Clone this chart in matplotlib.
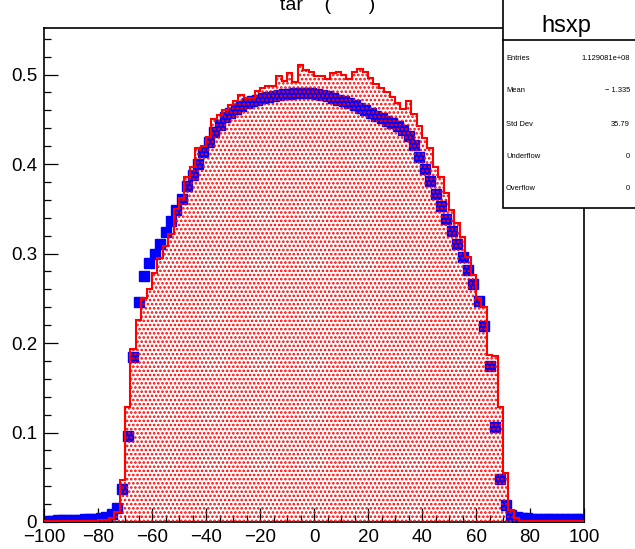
import numpy as np
import matplotlib.pyplot as plt
from matplotlib.patches import Rectangle
from matplotlib.ticker import MultipleLocator, FuncFormatter

plt.rcParams['font.family'] = ['Liberation Sans', 'DejaVu Sans']
plt.rcParams['hatch.linewidth'] = 1.25

# binning: 100 bins of width 2 from -100 to 100
edges = np.arange(-100, 101, 2)
centers = 0.5 * (edges[:-1] + edges[1:])

# red histogram (filled, dotted pattern)
red_vals = ([0.001] * 10 +
            [0.002, 0.002, 0.005, 0.011, 0.047, 0.129, 0.193, 0.226, 0.250, 0.260,
             0.278, 0.295, 0.308, 0.322, 0.350, 0.362, 0.385, 0.397, 0.418, 0.420,
             0.430, 0.450, 0.455, 0.460, 0.466, 0.470, 0.477, 0.474, 0.474, 0.482,
             0.485, 0.487, 0.487, 0.498, 0.493, 0.502, 0.492, 0.511, 0.505, 0.503,
             0.498, 0.498, 0.495, 0.502, 0.503, 0.500, 0.495, 0.503, 0.506, 0.503,
             0.496, 0.489, 0.485, 0.480, 0.475, 0.468, 0.462, 0.470, 0.456, 0.443,
             0.429, 0.418, 0.397, 0.386, 0.368, 0.349, 0.334, 0.318, 0.296, 0.276,
             0.250, 0.240, 0.187, 0.185, 0.128, 0.055, 0.013, 0.004] +
            [0.001] * 12)

# blue markers
blue_vals = ([0.001, 0.0015, 0.002, 0.002, 0.002, 0.0025, 0.0025, 0.003, 0.003, 0.003] +
             [0.004, 0.006, 0.009, 0.016, 0.037, 0.096, 0.184, 0.246, 0.275, 0.289,
              0.300, 0.311, 0.324, 0.336, 0.349, 0.361, 0.375, 0.388, 0.400, 0.413,
              0.425, 0.436, 0.444, 0.452, 0.457, 0.461, 0.465, 0.468, 0.470, 0.472,
              0.474, 0.475, 0.476, 0.477, 0.478, 0.478, 0.479, 0.479, 0.479, 0.479,
              0.478, 0.477, 0.476, 0.474, 0.472, 0.470, 0.468, 0.466, 0.463, 0.460,
              0.457, 0.454, 0.451, 0.448, 0.446, 0.443, 0.438, 0.431, 0.421, 0.408,
              0.395, 0.381, 0.367, 0.353, 0.339, 0.325, 0.311, 0.296, 0.282, 0.266,
              0.247, 0.219, 0.174, 0.106, 0.048, 0.019, 0.008, 0.006, 0.005, 0.004] +
             [0.003] * 10)

stat_labels = ["Entries", "Mean", "Std Dev", "Underflow", "Overflow"]
stat_values = ["1.129081e+08", "\u2212 1.335", "35.79", "0", "0"]

W, H = 635, 549
fig = plt.figure(figsize=(W / 100, H / 100), dpi=100)
ax = fig.add_axes([44 / W, 1 - 522 / H, 540 / W, 494 / H])

ax.plot(centers, blue_vals, 's', color='#0000ff', ms=7.3, mec='#0000ff', zorder=2)
ax.stairs(red_vals, edges, fill=True, facecolor='none', edgecolor='#ff0000',
          hatch='....', linewidth=0, zorder=3)
ax.stairs(red_vals, edges, color='#ff0000', linewidth=1.5, zorder=4)

ax.set_xlim(-100, 100)
ax.set_ylim(0, 0.552)
ax.xaxis.set_major_locator(MultipleLocator(20))
ax.xaxis.set_minor_locator(MultipleLocator(5))
ax.yaxis.set_major_locator(MultipleLocator(0.1))
ax.yaxis.set_minor_locator(MultipleLocator(0.02))
fmt = FuncFormatter(lambda v, p: f"{v:g}".replace('-', '\u2212'))
ax.xaxis.set_major_formatter(fmt)
ax.yaxis.set_major_formatter(fmt)
ax.tick_params(which='both', direction='in', top=False, right=False,
               width=0.9, labelsize=13.5, pad=5)
ax.tick_params(which='major', length=10)
ax.tick_params(which='minor', length=5)
for s in ax.spines.values():
    s.set_linewidth(1.2)

# title (mostly above the canvas)
fig.text(280 / W, 1 - 10 / H, "tar    (       )", ha='left', va='baseline', fontsize=14)

# stats box
box = Rectangle((503 / W, 1 - 208 / H), 0.3, 0.5, transform=fig.transFigure,
                facecolor='white', edgecolor='black', linewidth=1.2, zorder=10)
fig.add_artist(box)
fig.add_artist(plt.Line2D([503 / W, 1.0], [1 - 40 / H, 1 - 40 / H], transform=fig.transFigure,
                          color='black', linewidth=1.2, zorder=11))
fig.text(566 / W, 1 - 32 / H, "hsxp", ha='center', va='baseline', fontsize=17, zorder=12)
rows_y = [58, 91, 124, 157, 189]
for lab, val, yy in zip(stat_labels, stat_values, rows_y):
    fig.text(506 / W, 1 - yy / H, lab, ha='left', va='center', fontsize=5.4, zorder=12)
    fig.text(630 / W, 1 - yy / H, val, ha='right', va='center', fontsize=5.4, zorder=12)

fig.savefig('out.png', dpi=100)
